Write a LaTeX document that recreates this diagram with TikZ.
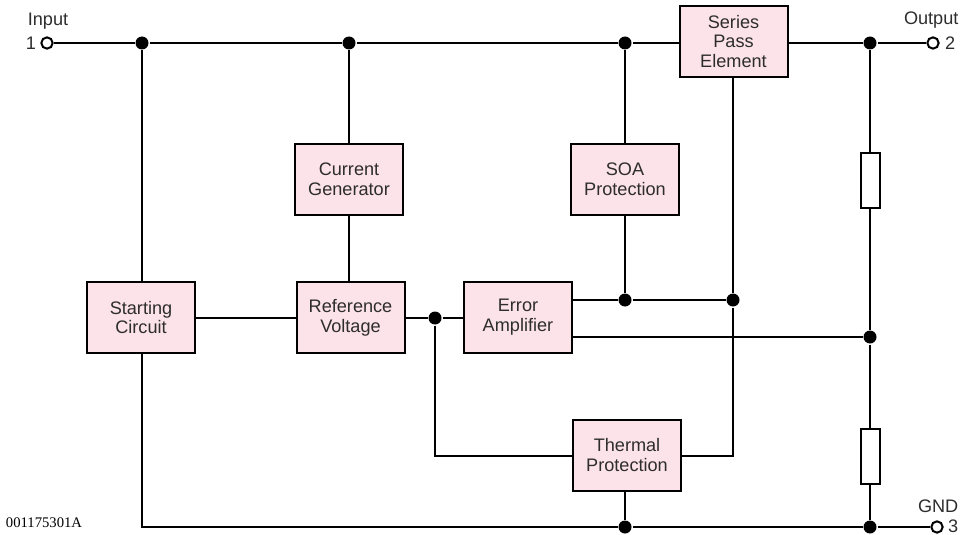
\documentclass[tikz,border=0pt]{standalone}
\usepackage{fontspec}
\setmainfont{Liberation Sans}
\newfontfamily\timesfont{Liberation Serif}
\definecolor{boxpink}{RGB}{252,226,233}
\definecolor{txt}{RGB}{45,45,45}
\begin{document}
\begin{tikzpicture}[x=0.75pt,y=-0.75pt, line width=1.5pt,
 blk/.style={draw, fill=boxpink, minimum width=81pt, minimum height=53.25pt, inner sep=0pt, align=center, font=\fontsize{13.6}{14.8}\selectfont, text=txt},
 dot/.style={circle, fill, inner sep=0pt, minimum size=9.75pt},
 term/.style={circle, draw, fill=white, inner sep=0pt, minimum size=8.5pt, line width=1.5pt},
 res/.style={draw, fill=white, minimum width=14.25pt, minimum height=41.25pt, inner sep=0pt},
 lbl/.style={font=\fontsize{13.6}{14.8}\selectfont, text=txt, inner sep=0pt}]
\useasboundingbox (0,0) rectangle (960,535);
% blocks
\node[blk] (spe) at (733.5,41.5) {Series\\Pass\\Element};
\node[blk] (cg) at (349,179.5) {Current\\Generator};
\node[blk] (soa) at (625,179.5) {SOA\\Protection};
\node[blk] (sc) at (141,317.5) {Starting\\Circuit};
\node[blk] (rv) at (350.5,317.5) {Reference\\Voltage};
\node[blk] (ea) at (518,317.5) {Error\\Amplifier};
\node[blk] (tp) at (627,455) {Thermal\\Protection};
% terminals and junctions
\node[term] (in) at (47,43) {};
\node[term] (out) at (933,43) {};
\node[term] (gnd) at (937,527) {};
\node[dot] (j1) at (142,43) {};
\node[dot] (j2) at (349,43) {};
\node[dot] (j3) at (625,43) {};
\node[dot] (j4) at (870,43) {};
\node[dot] (e1) at (625,300) {};
\node[dot] (e2) at (733,300) {};
\node[dot] (e3) at (870,337) {};
\node[dot] (j5) at (435,318) {};
\node[dot] (g1) at (625,527) {};
\node[dot] (g2) at (870,527) {};
\coordinate (g0) at (142,527);
\coordinate (t1) at (435,456);
\coordinate (t2) at (733,456);
\node[res] (r1) at (870,180.5) {};
\node[res] (r2) at (870,456) {};
% wiring
\draw (in) -- (j1) -- (j2) -- (j3) -- (spe.west |- j3);
\draw (spe.east |- j4) -- (j4) -- (out);
\draw (j1) -- (j1 |- sc.north);
\draw (sc.south -| g0) -- (g0) -- (g1) -- (g2) -- (gnd);
\draw (j2) -- (cg);
\draw (cg.south) -- (cg.south |- rv.north);
\draw (j3) -- (soa) -- (e1);
\draw (sc) -- (rv);
\draw (rv.east |- j5) -- (j5) -- (j5 -| ea.west);
\draw (j5) -- (t1) -- (tp.west |- t1);
\draw (tp.east |- t2) -- (t2) -- (e2);
\draw (spe.south -| e2) -- (e2);
\draw (ea.east |- e1) -- (e1) -- (e2);
\draw (ea.east |- e3) -- (e3);
\draw (g1 |- tp.south) -- (g1);
\draw (j4) -- (r1) -- (e3) -- (r2) -- (g2);
% labels
\node[lbl] (lin) at (48,21) {Input};
\node[lbl, anchor=east] (l1) at (37,43) {1};
\node[lbl, anchor=west] (lout) at (903,20) {Output};
\node[lbl, anchor=west] (l2) at (944,43) {2};
\node[lbl, anchor=west] (lgnd) at (917,506) {GND};
\node[lbl, anchor=west] (l3) at (947,526) {3};
\node[font=\timesfont\fontsize{11}{12}\selectfont, anchor=west, inner sep=0pt] (code) at (5,523) {001175301A};
\end{tikzpicture}
\end{document}
